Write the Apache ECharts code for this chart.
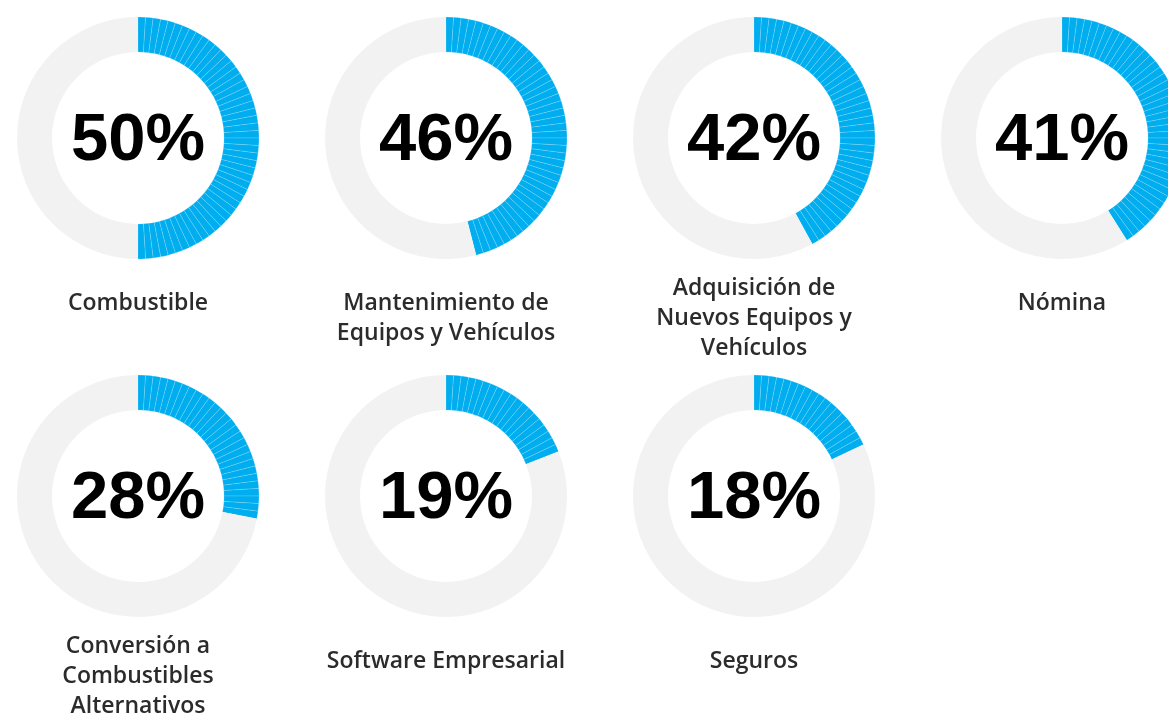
<!DOCTYPE html>
<html>
<head>
<meta charset="utf-8">
<style>
  html, body { margin: 0; padding: 0; background: #fff; }
  #chart { width: 1168px; height: 715px; }
</style>
<script src="https://cdn.jsdelivr.net/npm/echarts@6/dist/echarts.min.js"></script>
</head>
<body>
<div id="chart"></div>
<script>
// percentages per category
const categories = [
  'Combustible',
  'Mantenimiento de\nEquipos y Vehículos',
  'Adquisición de\nNuevos Equipos y\nVehículos',
  'Nómina',
  'Conversión a\nCombustibles\nAlternativos',
  'Software Empresarial',
  'Seguros'
];
const percents = [50, 46, 42, 41, 28, 19, 18];

const colX = [138, 446, 754, 1062];
const rowY = [138, 496];
const blue = '#00aeef';
const grey = '#f2f2f2';

const chart = echarts.init(document.getElementById('chart'));

const series = [];
const graphic = [];
percents.forEach((p, i) => {
  const cx = colX[i % 4];
  const cy = rowY[Math.floor(i / 4)];
  // the blue arc is drawn as 1% steps, the rest is grey
  const data = [];
  for (let k = 0; k < p; k++) {
    data.push({ value: 1, itemStyle: { color: blue, borderColor: 'rgba(255,255,255,0.3)', borderWidth: 0.5 } });
  }
  data.push({ value: 100 - p, itemStyle: { color: grey, borderWidth: 0 } });
  series.push({
    type: 'pie',
    center: [cx, cy],
    radius: [86, 121],
    startAngle: 90,
    clockwise: true,
    silent: true,
    label: { show: false },
    labelLine: { show: false },
    emphasis: { disabled: true },
    data: data
  });
  graphic.push({
    type: 'text',
    x: cx,
    y: cy + 4,
    style: {
      text: p + '%',
      fill: '#000',
      font: 'bold 67px "Liberation Sans", Arial, sans-serif',
      textAlign: 'center',
      textVerticalAlign: 'middle'
    }
  });
  const lines = categories[i].split('\n').length;
  graphic.push({
    type: 'text',
    x: cx,
    y: cy + (lines === 3 ? 135 : 150),
    style: {
      text: categories[i],
      fill: '#2b2b2b',
      font: '600 23px "Open Sans", "Noto Sans", sans-serif',
      lineHeight: 30,
      textAlign: 'center',
      textVerticalAlign: 'top'
    }
  });
});

chart.setOption({
  animation: false,
  backgroundColor: '#fff',
  series: series,
  graphic: graphic
});
</script>
</body>
</html>
